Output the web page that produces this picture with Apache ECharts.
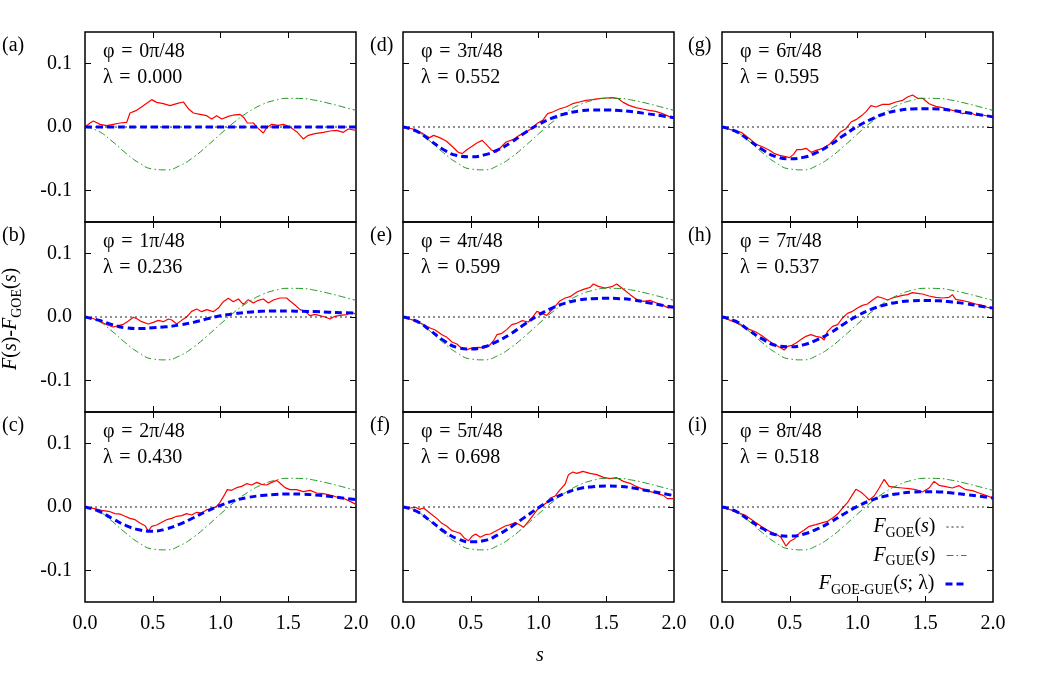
<!DOCTYPE html>
<html>
<head>
<meta charset="utf-8">
<title>F(s) - F_GOE(s)</title>
<script src="https://cdn.jsdelivr.net/npm/echarts@6/dist/echarts.min.js"></script>
<style>
  html, body { margin: 0; padding: 0; background: #fff; }
  #chart { width: 1063px; height: 678px; }
</style>
</head>
<body>
<div id="chart"></div>
<script>
// s values for the smooth theory curves
const sGrid = [0, 0.1, 0.2, 0.3, 0.4, 0.5, 0.6, 0.7, 0.8, 0.9, 1.0, 1.1, 1.2, 1.3, 1.4, 1.5, 1.6, 1.7, 1.8, 1.9, 2.0]
const sEnds = [0, 2]
const goeDiff = [0, 0]
const gueDiff = [0, -0.0067, -0.0225, -0.0410, -0.0568, -0.0663, -0.0677, -0.0610, -0.0478, -0.0302, -0.0110, 0.0074, 0.0229, 0.0347, 0.0420, 0.0453, 0.0450, 0.0421, 0.0374, 0.0319, 0.0262]

// F_GOE-GUE(s; lambda) - F_GOE(s), one per panel
const mixA = [0, 0, 0, 0, 0, 0, 0, 0, 0, 0, 0, 0, 0, 0, 0, 0, 0, 0, 0, 0, 0]
const mixB = [0, -0.005, -0.012, -0.017, -0.0183, -0.017, -0.0155, -0.0125, -0.0085, -0.003, 0.002, 0.005, 0.0075, 0.009, 0.0095, 0.0095, 0.009, 0.0085, 0.0075, 0.0068, 0.006]
const mixC = [0, -0.0065, -0.018, -0.029, -0.036, -0.0383, -0.0345, -0.027, -0.017, -0.0065, 0.0026, 0.010, 0.015, 0.018, 0.0198, 0.0205, 0.0203, 0.019, 0.0168, 0.0143, 0.0116]
const mixD = [0, -0.0065, -0.021, -0.036, -0.045, -0.047, -0.044, -0.036, -0.024, -0.009, 0.004, 0.014, 0.021, 0.025, 0.027, 0.027, 0.026, 0.024, 0.021, 0.018, 0.0147]
const mixE = [0, -0.0066, -0.021, -0.037, -0.048, -0.0505, -0.047, -0.038, -0.026, -0.011, 0.003, 0.014, 0.022, 0.027, 0.029, 0.0295, 0.029, 0.027, 0.023, 0.019, 0.0153]
const mixF = [0, -0.0067, -0.0215, -0.038, -0.050, -0.055, -0.053, -0.044, -0.031, -0.016, -0.001, 0.012, 0.022, 0.029, 0.032, 0.033, 0.0325, 0.030, 0.026, 0.022, 0.018]
const mixG = [0, -0.0066, -0.021, -0.036, -0.047, -0.050, -0.048, -0.040, -0.028, -0.013, 0.001, 0.012, 0.021, 0.026, 0.0285, 0.029, 0.0285, 0.026, 0.023, 0.0195, 0.016]
const mixH = [0, -0.0066, -0.021, -0.035, -0.045, -0.047, -0.044, -0.036, -0.025, -0.011, 0.002, 0.012, 0.019, 0.0235, 0.0255, 0.026, 0.0255, 0.0235, 0.021, 0.0175, 0.014]
const mixI = [0, -0.0065, -0.0205, -0.034, -0.044, -0.046, -0.043, -0.035, -0.024, -0.011, 0.001, 0.0105, 0.017, 0.021, 0.0235, 0.024, 0.0238, 0.022, 0.0195, 0.017, 0.014]

// measured F(s) - F_GOE(s), [s, value]
const redA = [[0, 0], [0.037, 0.0063], [0.062, 0.0095], [0.111, 0.0042], [0.160, 0.0021], [0.209, 0.0042], [0.258, 0.0063], [0.308, 0.0074], [0.332, 0.0221], [0.381, 0.0263], [0.430, 0.0337], [0.492, 0.0432], [0.529, 0.0389], [0.578, 0.0368], [0.627, 0.0337], [0.677, 0.0368], [0.726, 0.0395], [0.763, 0.0289], [0.800, 0.0221], [0.849, 0.0200], [0.898, 0.0179], [0.935, 0.0126], [0.972, 0.0179], [1.009, 0.0126], [1.058, 0.0168], [1.095, 0.0189], [1.144, 0.0200], [1.173, 0.0147], [1.198, 0.0063], [1.242, 0.0063], [1.279, -0.0026], [1.316, -0.0095], [1.341, -0.0011], [1.378, 0.0042], [1.427, 0.0026], [1.464, 0.0042], [1.513, 0], [1.562, -0.0074], [1.611, -0.0189], [1.648, -0.0132], [1.697, -0.0105], [1.759, -0.0084], [1.808, -0.0063], [1.857, -0.0053], [1.907, -0.0084], [1.943, -0.0032], [2.0, -0.0053]]
const redB = [[0, 0], [0.049, -0.0016], [0.111, -0.0068], [0.160, -0.0121], [0.209, -0.0158], [0.246, -0.0137], [0.283, -0.0116], [0.320, -0.0063], [0.357, -0.0005], [0.386, -0.0032], [0.418, -0.0074], [0.467, -0.0111], [0.504, -0.0084], [0.541, -0.0053], [0.578, -0.0074], [0.615, -0.0032], [0.640, -0.0047], [0.677, -0.0111], [0.713, -0.0053], [0.750, 0], [0.787, 0.0089], [0.824, 0.0126], [0.861, 0.0084], [0.898, 0.0116], [0.947, 0.0084], [0.984, 0.0142], [1.021, 0.0242], [1.058, 0.0295], [1.095, 0.0242], [1.132, 0.0284], [1.168, 0.0200], [1.205, 0.0274], [1.242, 0.0221], [1.279, 0.0263], [1.316, 0.0284], [1.353, 0.0221], [1.390, 0.0268], [1.439, 0.0300], [1.488, 0.0300], [1.513, 0.0253], [1.550, 0.0189], [1.587, 0.0116], [1.624, 0.0089], [1.661, 0.0021], [1.697, 0.0042], [1.734, 0.0021], [1.771, 0], [1.808, -0.0032], [1.845, 0.0011], [1.882, 0.0026], [1.931, 0.0037], [1.968, 0.0074], [2.0, 0.0042]]
const redC = [[0, 0], [0.062, -0.0021], [0.123, -0.0053], [0.185, -0.0074], [0.221, -0.0105], [0.258, -0.0111], [0.295, -0.0147], [0.332, -0.0179], [0.369, -0.0200], [0.406, -0.0253], [0.443, -0.0295], [0.467, -0.0379], [0.492, -0.0305], [0.529, -0.0284], [0.566, -0.0242], [0.603, -0.0200], [0.640, -0.0179], [0.677, -0.0147], [0.713, -0.0137], [0.750, -0.0105], [0.787, -0.0126], [0.824, -0.0084], [0.861, -0.0095], [0.898, -0.0042], [0.935, -0.0032], [0.972, 0.0011], [0.996, 0.0074], [1.026, 0.0179], [1.050, 0.0274], [1.082, 0.0263], [1.119, 0.0305], [1.156, 0.0326], [1.193, 0.0368], [1.230, 0.0347], [1.267, 0.0389], [1.304, 0.0358], [1.341, 0.0347], [1.378, 0.0389], [1.415, 0.0421], [1.444, 0.0368], [1.476, 0.0305], [1.513, 0.0274], [1.562, 0.0274], [1.611, 0.0242], [1.661, 0.0263], [1.710, 0.0221], [1.759, 0.0211], [1.808, 0.0189], [1.857, 0.0158], [1.907, 0.0137], [1.956, 0.0089], [2.0, 0.0042]]
const redD = [[0, 0], [0.074, -0.0032], [0.147, -0.0105], [0.196, -0.0168], [0.226, -0.0132], [0.270, -0.0168], [0.319, -0.0221], [0.368, -0.0316], [0.405, -0.0395], [0.437, -0.0421], [0.471, -0.0358], [0.510, -0.0305], [0.545, -0.0253], [0.584, -0.0211], [0.614, -0.0274], [0.650, -0.0358], [0.687, -0.0400], [0.724, -0.0316], [0.761, -0.0237], [0.810, -0.0200], [0.859, -0.0132], [0.908, -0.0079], [0.957, -0.0011], [0.994, 0.0063], [1.031, 0.0105], [1.067, 0.0211], [1.104, 0.0237], [1.153, 0.0284], [1.202, 0.0316], [1.252, 0.0368], [1.301, 0.0395], [1.350, 0.0421], [1.399, 0.0432], [1.448, 0.0447], [1.497, 0.0458], [1.546, 0.0463], [1.590, 0.0447], [1.625, 0.0389], [1.669, 0.0342], [1.718, 0.0305], [1.767, 0.0284], [1.816, 0.0263], [1.865, 0.0247], [1.914, 0.0211], [1.963, 0.0168], [2.0, 0.0142]]
const redE = [[0, 0], [0.103, -0.0068], [0.201, -0.0174], [0.238, -0.0205], [0.287, -0.0279], [0.324, -0.0321], [0.361, -0.0395], [0.398, -0.0426], [0.435, -0.0500], [0.472, -0.0516], [0.509, -0.0489], [0.558, -0.0479], [0.600, -0.0489], [0.634, -0.0458], [0.668, -0.0374], [0.693, -0.0279], [0.730, -0.0258], [0.767, -0.0195], [0.803, -0.0121], [0.840, -0.0100], [0.877, -0.0058], [0.926, -0.0079], [0.963, 0.0016], [0.988, 0.0089], [1.025, 0.0058], [1.061, 0.0026], [1.111, 0.0142], [1.160, 0.0258], [1.197, 0.0300], [1.233, 0.0321], [1.283, 0.0395], [1.332, 0.0437], [1.381, 0.0468], [1.405, 0.0521], [1.442, 0.0484], [1.491, 0.0458], [1.541, 0.0479], [1.577, 0.0521], [1.627, 0.0437], [1.676, 0.0353], [1.730, 0.0268], [1.774, 0.0247], [1.823, 0.0263], [1.872, 0.0221], [1.921, 0.0184], [1.958, 0.0142], [2.0, 0.0153]]
const redF = [[0, 0], [0.054, -0.0016], [0.091, -0.0005], [0.123, -0.0037], [0.152, -0.0016], [0.182, -0.0068], [0.214, -0.0121], [0.251, -0.0184], [0.287, -0.0258], [0.324, -0.0305], [0.361, -0.0374], [0.393, -0.0395], [0.423, -0.0416], [0.452, -0.0489], [0.484, -0.0532], [0.509, -0.0463], [0.536, -0.0426], [0.570, -0.0479], [0.607, -0.0437], [0.644, -0.0426], [0.681, -0.0384], [0.717, -0.0342], [0.754, -0.0300], [0.791, -0.0279], [0.828, -0.0247], [0.860, -0.0279], [0.889, -0.0321], [0.926, -0.0226], [0.963, -0.0121], [0.993, -0.0037], [1.025, 0.0016], [1.057, 0.0063], [1.086, 0.0142], [1.123, 0.0174], [1.160, 0.0274], [1.197, 0.0363], [1.221, 0.0511], [1.253, 0.0553], [1.283, 0.0532], [1.327, 0.0563], [1.381, 0.0532], [1.430, 0.0511], [1.479, 0.0468], [1.528, 0.0447], [1.577, 0.0463], [1.627, 0.0405], [1.676, 0.0374], [1.725, 0.0321], [1.774, 0.0279], [1.823, 0.0247], [1.872, 0.0216], [1.921, 0.0184], [1.951, 0.0132], [2.0, 0.0132]]
const redG = [[0, 0], [0.081, -0.0053], [0.142, -0.0084], [0.199, -0.0179], [0.253, -0.0274], [0.302, -0.0316], [0.351, -0.0368], [0.388, -0.0421], [0.425, -0.0447], [0.461, -0.0463], [0.498, -0.0484], [0.528, -0.0432], [0.552, -0.0358], [0.584, -0.0358], [0.621, -0.0337], [0.658, -0.0400], [0.694, -0.0368], [0.744, -0.0337], [0.793, -0.0274], [0.842, -0.0158], [0.871, -0.0084], [0.915, -0.0026], [0.952, 0.0079], [0.989, 0.0116], [1.033, 0.0184], [1.063, 0.0242], [1.099, 0.0337], [1.136, 0.0316], [1.185, 0.0358], [1.234, 0.0358], [1.283, 0.0395], [1.333, 0.0421], [1.369, 0.0474], [1.406, 0.0505], [1.443, 0.0453], [1.480, 0.0453], [1.529, 0.0368], [1.578, 0.0326], [1.627, 0.0305], [1.676, 0.0274], [1.725, 0.0253], [1.774, 0.0211], [1.823, 0.0232], [1.872, 0.0189], [1.921, 0.0189], [2.0, 0.0158]]
const redH = [[0, 0], [0.103, -0.0089], [0.201, -0.0195], [0.251, -0.0237], [0.300, -0.0305], [0.349, -0.0384], [0.398, -0.0447], [0.435, -0.0489], [0.459, -0.0521], [0.484, -0.0463], [0.516, -0.0447], [0.550, -0.0405], [0.585, -0.0353], [0.619, -0.0305], [0.656, -0.0279], [0.693, -0.0305], [0.730, -0.0321], [0.754, -0.0363], [0.779, -0.0226], [0.816, -0.0147], [0.853, -0.0121], [0.889, -0.0016], [0.926, 0.0058], [0.963, 0.0089], [1.000, 0.0142], [1.037, 0.0184], [1.074, 0.0205], [1.111, 0.0268], [1.147, 0.0321], [1.184, 0.0300], [1.221, 0.0268], [1.258, 0.0300], [1.295, 0.0321], [1.332, 0.0342], [1.369, 0.0353], [1.405, 0.0384], [1.442, 0.0374], [1.479, 0.0363], [1.528, 0.0332], [1.577, 0.0311], [1.627, 0.0300], [1.676, 0.0311], [1.700, 0.0353], [1.725, 0.0279], [1.774, 0.0258], [1.823, 0.0237], [1.872, 0.0205], [1.921, 0.0184], [1.958, 0.0153], [2.0, 0.0142]]
const redI = [[0, 0], [0.103, -0.0074], [0.172, -0.0132], [0.201, -0.0174], [0.251, -0.0247], [0.300, -0.0321], [0.349, -0.0384], [0.398, -0.0426], [0.435, -0.0479], [0.472, -0.0616], [0.501, -0.0542], [0.536, -0.0500], [0.570, -0.0416], [0.607, -0.0363], [0.644, -0.0305], [0.693, -0.0279], [0.742, -0.0247], [0.779, -0.0226], [0.816, -0.0174], [0.853, -0.0111], [0.889, -0.0016], [0.926, 0.0068], [0.963, 0.0195], [0.988, 0.0279], [1.025, 0.0237], [1.061, 0.0168], [1.086, 0.0111], [1.123, 0.0174], [1.160, 0.0300], [1.197, 0.0437], [1.233, 0.0326], [1.283, 0.0311], [1.332, 0.0300], [1.381, 0.0289], [1.430, 0.0274], [1.479, 0.0237], [1.528, 0.0300], [1.565, 0.0405], [1.602, 0.0342], [1.651, 0.0321], [1.700, 0.0300], [1.749, 0.0337], [1.799, 0.0274], [1.848, 0.0258], [1.897, 0.0221], [1.946, 0.0184], [2.0, 0.0142]]

const panelTags = ['(a)', '(b)', '(c)', '(d)', '(e)', '(f)', '(g)', '(h)', '(i)']
const phiLabels = ['0π/48', '1π/48', '2π/48', '3π/48', '4π/48', '5π/48', '6π/48', '7π/48', '8π/48']
const lambdaLabels = ['0.000', '0.236', '0.430', '0.552', '0.599', '0.698', '0.595', '0.537', '0.518']
const redData = [redA, redB, redC, redD, redE, redF, redG, redH, redI]
const mixData = [mixA, mixB, mixC, mixD, mixE, mixF, mixG, mixH, mixI]
const xTicks = [0, 0.5, 1, 1.5, 2]
const yTicks = [-0.1, 0, 0.1]

const SERIF = 'Liberation Serif'
const colLeft = [85, 403, 722]
const tagLeft = [2, 370, 688]
const rowTop = [32, 222, 412]
const W = 271
const H = 190

const chart = echarts.init(document.getElementById('chart'))

const pairs = (xs, ys) => xs.map((x, k) => [x, ys[k]])
const tickStyle = { inside: true, length: 6, lineStyle: { color: '#000', width: 1 } }
const noLine = { show: false, onZero: false }
const richText = {
  it: { fontFamily: SERIF, fontStyle: 'italic', fontSize: 20, color: '#000' },
  rm: { fontFamily: SERIF, fontSize: 20, color: '#000' },
  end: { fontFamily: SERIF, fontSize: 20, color: '#000', padding: [0, 6, 0, 0] },
  sub: { fontFamily: SERIF, fontSize: 14, color: '#000', padding: [12, 0, 0, 0] }
}

const grids = []
const xAxes = []
const yAxes = []
const series = []
const graphics = []

panelTags.forEach((tag, i) => {
  const col = Math.floor(i / 3)
  const row = i % 3
  grids.push({
    left: colLeft[col], top: rowTop[row], width: W, height: H,
    show: true, borderColor: '#000', borderWidth: 1.5, backgroundColor: 'transparent'
  })
  xAxes.push({
    gridIndex: i, type: 'value', min: 0, max: 2, position: 'bottom',
    axisLine: noLine, splitLine: { show: false },
    axisTick: Object.assign({ customValues: [0.5, 1, 1.5] }, tickStyle),
    axisLabel: {
      show: row === 2, customValues: xTicks, margin: 12,
      formatter: v => v.toFixed(1), fontFamily: SERIF, fontSize: 20, color: '#000'
    }
  })
  xAxes.push({
    gridIndex: i, type: 'value', min: 0, max: 2, position: 'top',
    axisLine: noLine, splitLine: { show: false },
    axisTick: Object.assign({ customValues: [0.5, 1, 1.5] }, tickStyle),
    axisLabel: { show: false }
  })
  yAxes.push({
    gridIndex: i, type: 'value', min: -0.15, max: 0.15, position: 'left',
    axisLine: noLine, splitLine: { show: false },
    axisTick: Object.assign({ customValues: yTicks }, tickStyle),
    axisLabel: {
      show: col === 0, customValues: yTicks, margin: 13,
      formatter: v => v.toFixed(1), fontFamily: SERIF, fontSize: 20, color: '#000'
    }
  })
  yAxes.push({
    gridIndex: i, type: 'value', min: -0.15, max: 0.15, position: 'right',
    axisLine: noLine, splitLine: { show: false },
    axisTick: Object.assign({ customValues: yTicks }, tickStyle),
    axisLabel: { show: false }
  })

  const ax = { xAxisIndex: 2 * i, yAxisIndex: 2 * i }
  series.push(Object.assign({
    name: 'data', type: 'line', data: redData[i], symbol: 'none', color: '#ff0000',
    lineStyle: { color: '#ff0000', width: 1.2 }, z: 2
  }, ax))
  series.push(Object.assign({
    name: 'goe', type: 'line', data: pairs(sEnds, goeDiff), symbol: 'none', color: '#222',
    lineStyle: { color: '#222', width: 1, type: [2, 3] }, z: 3
  }, ax))
  series.push(Object.assign({
    name: 'gue', type: 'line', data: pairs(sGrid, gueDiff), symbol: 'none', smooth: true, color: '#1e961e',
    lineStyle: { color: '#1e961e', width: 1, type: [7, 3, 1.5, 3] }, z: 3
  }, ax))
  series.push(Object.assign({
    name: 'mix', type: 'line', data: pairs(sGrid, mixData[i]), symbol: 'none', smooth: true, color: '#0000ff',
    lineStyle: { color: '#0000ff', width: 3, type: [7, 4] }, z: 4
  }, ax))

  const left = colLeft[col]
  const top = rowTop[row]
  graphics.push({
    type: 'text', left: tagLeft[col], top: top + 4,
    style: { text: tag, font: '20px ' + SERIF, fill: '#000' }
  })
  graphics.push({
    type: 'text', left: left + 18, top: top + 10,
    style: { text: 'φ\u2004=\u2004' + phiLabels[i], font: '20px ' + SERIF, fill: '#000' }
  })
  graphics.push({
    type: 'text', left: left + 18, top: top + 36,
    style: { text: 'λ\u2004=\u2004' + lambdaLabels[i], font: '20px ' + SERIF, fill: '#000' }
  })
})

// axis titles
graphics.push({
  type: 'text', left: 536, top: 646,
  style: { text: 's', font: 'italic 20px ' + SERIF, fill: '#000' }
})
graphics.push({
  type: 'text', x: -2, y: 370, rotation: Math.PI / 2,
  style: {
    text: '{it|F}{rm|(}{it|s}{rm|)-}{it|F}{sub|GOE}{rm|(}{it|s}{rm|)}',
    rich: richText
  }
})

const legendNames = { goe: 'GOE', gue: 'GUE', mix: 'GOE-GUE' }
const legends = ['goe', 'gue', 'mix'].map((name, k) => ({
  data: [name], orient: 'vertical', align: 'right', right: 96, top: 517 + 28.5 * k,
  padding: 0, itemWidth: 20, itemHeight: 10, selectedMode: false,
  itemStyle: { opacity: 0 },
  lineStyle: { width: 'inherit' },
  formatter: n => '{it|F}{sub|' + legendNames[n] + '}{rm|(}{it|s}{end|' + (n === 'mix' ? '; λ)' : ')') + '}',
  textStyle: { rich: richText }
}))

chart.setOption({
  animation: false,
  backgroundColor: '#fff',
  grid: grids,
  xAxis: xAxes,
  yAxis: yAxes,
  legend: legends,
  series: series,
  graphic: graphics
})
</script>
</body>
</html>
